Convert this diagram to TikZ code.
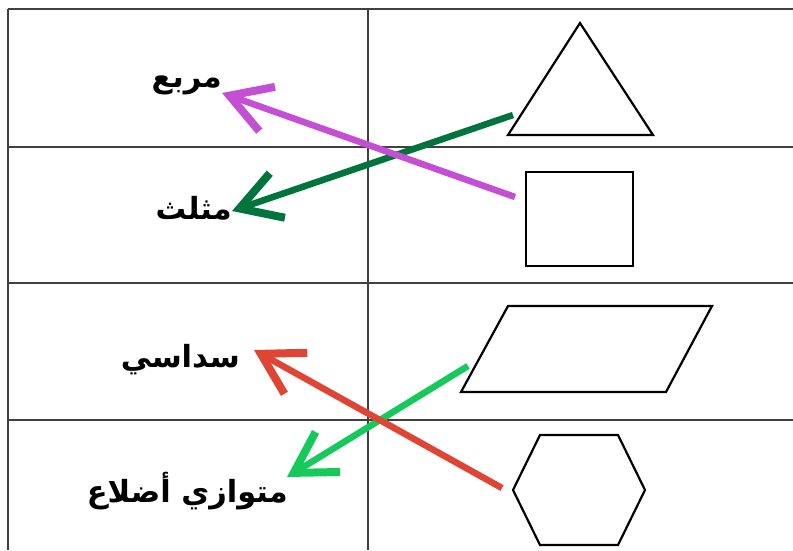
\documentclass[tikz,border=0pt]{standalone}
\usepackage{fontspec}
\usetikzlibrary{arrows.meta}
\TeXXeTstate=1
\newfontfamily\arabicfont[Script=Arabic]{DejaVu Sans}
\definecolor{pinkline}{HTML}{C44FD5}
\definecolor{darkline}{HTML}{00743C}
\definecolor{redline}{HTML}{DE4535}
\definecolor{lightline}{HTML}{16C95B}

\tikzset{
    tableline/.style={draw=black!75,line width=1.2pt},
    figline/.style={draw=black,line width=2.2pt,line join=miter},
    word/.style={font=\arabicfont\bfseries\fontsize{30.5}{36}\selectfont,inner sep=0pt,anchor=east},
    match/.style={line width=6.5pt,-{Straight Barb[length=40pt,width=47pt,line width=8pt]}}
}

\begin{document}
\begin{tikzpicture}[x=1pt,y=-1pt]
    \useasboundingbox (0,0) rectangle (793,550);
    % table
    \foreach \r in {9,147,283,420}
        \draw[tableline] (8,\r) -- (793,\r);
    \draw[tableline] (8,9) -- (8,550);
    \draw[tableline] (368,9) -- (368,550);
    % shapes
    \draw[figline] (580,23) -- (653,135) -- (508,135) -- cycle;
    \draw[figline] (526,172) rectangle (633,266);
    \draw[figline] (508,306) -- (712,306) -- (666,392) -- (461,392) -- cycle;
    \draw[figline] (540,435) -- (618,435) -- (645,490) -- (618,545)
        -- (540,545) -- (513,490) -- cycle;
    % words
    \node[word] (murabba) at (222,85) {\beginR مربع\endR};
    \node[word] (muthallath) at (232,208) {\beginR مثلث\endR};
    \node[word] (sudasi) at (240,360) {\beginR سداسي\endR};
    \node[word] (mutawazi) at (288,491) {\beginR متوازي أضلاع\endR};
    % arrow starts
    \coordinate (trifrom) at (513,115);
    \coordinate (sqfrom) at (515,197);
    \coordinate (parfrom) at (468,366);
    \coordinate (hexfrom) at (502,488);
    % matches
    \draw[match,darkline] (trifrom) -- ([yshift=-3pt]muthallath.east);
    \draw[match,pinkline] (sqfrom) -- ([yshift=-8pt]murabba.east);
    \draw[match,lightline] (parfrom) -- ([xshift=-1pt,yshift=14pt]mutawazi.east);
    \draw[match,redline] (hexfrom) -- ([xshift=14pt,yshift=10pt]sudasi.east);
\end{tikzpicture}
\end{document}
